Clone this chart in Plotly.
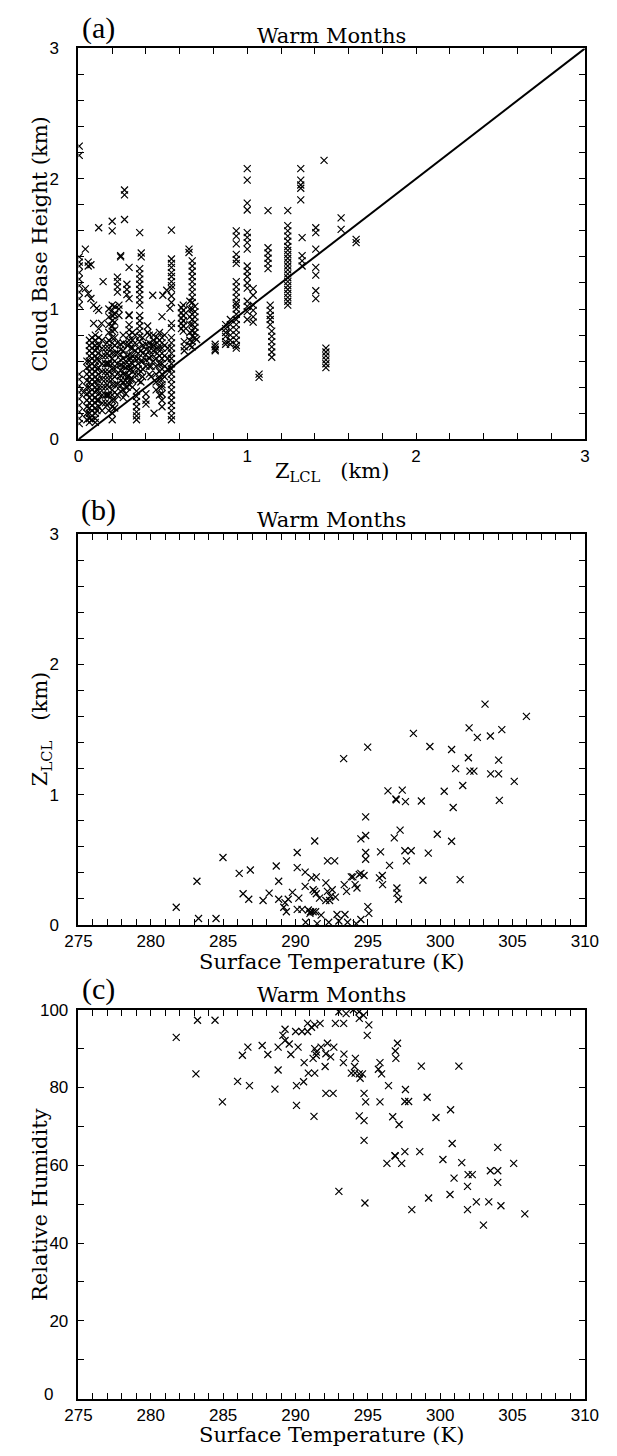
import plotly.graph_objects as go

# ---------------------------------------------------------------------------
# (a) Cloud base height vs. LCL height; points sit in columns of equal Z_LCL
# ---------------------------------------------------------------------------
a_zlcl = [0.005, 0.03, 0.041, 0.05, 0.058, 0.065, 0.074, 0.08, 0.09, 0.10,
          0.108, 0.11, 0.12, 0.137, 0.14, 0.146, 0.16, 0.17, 0.18, 0.20,
          0.215, 0.23, 0.231, 0.24, 0.25, 0.265, 0.273, 0.28, 0.287, 0.29,
          0.30, 0.31, 0.32, 0.335, 0.344, 0.354, 0.363, 0.37, 0.372, 0.38,
          0.40, 0.41, 0.42, 0.43, 0.44, 0.444, 0.448, 0.46, 0.467, 0.48,
          0.495, 0.50, 0.51, 0.523, 0.53, 0.542, 0.551, 0.61, 0.621, 0.627,
          0.655, 0.66, 0.674, 0.69, 0.70, 0.81, 0.872, 0.90, 0.935, 1.0,
          1.035, 1.07, 1.123, 1.136, 1.145, 1.24, 1.317, 1.325, 1.406, 1.455,
          1.466, 1.556, 1.645]
a_cbh = [
    [2.25, 2.18, 1.40, 1.36, 1.33, 1.28, 1.23, 1.18, 1.13, 1.08, 1.03, 0.50, 0.46, 0.41, 0.36,
     0.31, 0.26, 0.21, 0.16, 0.12],                                          # 0.005
    [0.36],                                                                  # 0.03
    [1.46, 1.157],                                                           # 0.041
    [0.60, 0.55, 0.50, 0.45, 0.40, 0.35, 0.30, 0.25, 0.20, 0.15],            # 0.05
    [1.36, 1.33, 1.119],                                                     # 0.058
    [0.76, 0.72, 0.68, 0.64, 0.60, 0.56, 0.52, 0.48, 0.44, 0.40, 0.36, 0.32, 0.28, 0.24, 0.20,
     0.16, 0.13],                                                            # 0.065
    [1.34, 1.081],                                                           # 0.074
    [0.78, 0.74, 0.70, 0.66, 0.62, 0.58, 0.54, 0.50, 0.46, 0.42, 0.38, 0.34, 0.30, 0.26, 0.22,
     0.18, 0.15],                                                            # 0.08
    [1.03, 0.89],                                                            # 0.09
    [0.80, 0.76, 0.72, 0.68, 0.64, 0.60, 0.56, 0.52, 0.48, 0.44, 0.40, 0.36, 0.32, 0.28, 0.24,
     0.20, 0.16, 0.13],                                                      # 0.10
    [1.005],                                                                 # 0.108
    [0.70, 0.62, 0.54, 0.46, 0.38, 0.30, 0.22],                              # 0.11
    [1.624, 0.99, 0.85, 0.78, 0.72, 0.66, 0.60, 0.55, 0.50, 0.45, 0.40, 0.35, 0.30, 0.25],  # 0.12
    [0.89],                                                                  # 0.137
    [0.76, 0.70, 0.64, 0.58, 0.52, 0.46, 0.40, 0.34, 0.28, 0.22],            # 0.14
    [1.21],                                                                  # 0.146
    [0.70, 0.64, 0.58, 0.52, 0.46, 0.40, 0.34, 0.28],                        # 0.16
    [0.74, 0.66, 0.58, 0.50, 0.42, 0.34, 0.26],                              # 0.17
    [1.00, 0.94, 0.88, 0.82, 0.76, 0.70, 0.64, 0.58, 0.52, 0.46, 0.40, 0.34, 0.28, 0.22],  # 0.18
    [1.674, 1.60, 1.03, 0.99, 0.95, 0.91, 0.87, 0.83, 0.78, 0.74, 0.70, 0.66, 0.62, 0.58, 0.54,
     0.50, 0.46, 0.42, 0.38, 0.34, 0.30, 0.25, 0.20, 0.15],                  # 0.20
    [1.02, 0.96, 0.90, 0.84, 0.78, 0.72, 0.66, 0.60, 0.54, 0.48, 0.42, 0.36, 0.30, 0.24],  # 0.215
    [0.74, 0.66, 0.58, 0.50, 0.42, 0.34],                                    # 0.23
    [1.245, 1.21, 1.17, 1.13],                                               # 0.231
    [1.03, 1.0, 0.95],                                                       # 0.24
    [1.41, 1.40, 0.73, 0.69, 0.65, 0.61, 0.57, 0.53, 0.49, 0.45, 0.41, 0.37],  # 0.25
    [0.80, 0.74, 0.68, 0.62, 0.56, 0.50, 0.44, 0.38, 0.32],                  # 0.265
    [1.914, 1.876, 1.687],                                                   # 0.273
    [0.60, 0.55, 0.50, 0.45, 0.40, 0.35],                                    # 0.28
    [1.19, 1.15, 1.11],                                                      # 0.287
    [0.72, 0.64, 0.56, 0.48, 0.40],                                          # 0.29
    [1.32, 1.08, 0.955, 0.95, 0.88, 0.84, 0.80, 0.76, 0.73, 0.65, 0.61, 0.57, 0.53, 0.49, 0.45,
     0.42],                                                                  # 0.30
    [0.70, 0.62, 0.54, 0.46],                                                # 0.31
    [0.82, 0.76, 0.70, 0.64, 0.58, 0.52, 0.46, 0.40],                        # 0.32
    [0.80, 0.74, 0.68, 0.62, 0.56, 0.50],                                    # 0.335
    [0.37, 0.33, 0.29, 0.25, 0.21, 0.18, 0.15],                              # 0.344
    [0.70, 0.66, 0.62, 0.58, 0.54, 0.50, 0.45],                              # 0.354
    [1.586, 1.31, 1.27, 1.23, 1.19, 1.15, 1.11, 1.07, 1.03, 0.95, 0.91, 0.87, 0.83, 0.79, 0.75],  # 0.363
    [0.68, 0.60, 0.52, 0.44],                                                # 0.37
    [1.43, 1.40],                                                            # 0.372
    [0.78, 0.72, 0.66, 0.60, 0.54, 0.48],                                    # 0.38
    [0.73, 0.69, 0.65, 0.61, 0.56, 0.35, 0.30, 0.27],                        # 0.40
    [0.87, 0.82],                                                            # 0.41
    [0.80, 0.74, 0.68, 0.62, 0.56, 0.50],                                    # 0.42
    [0.72, 0.64, 0.56, 0.48],                                                # 0.43
    [1.106],                                                                 # 0.44
    [0.80, 0.76, 0.72, 0.68, 0.60],                                          # 0.444
    [0.20],                                                                  # 0.448
    [0.62, 0.56, 0.50, 0.44, 0.38],                                          # 0.46
    [0.78, 0.74, 0.70, 0.66],                                                # 0.467
    [0.82, 0.76, 0.70, 0.64, 0.58, 0.52, 0.46, 0.40, 0.34],                  # 0.48
    [0.942, 0.78, 0.74, 0.70, 0.66, 0.62, 0.58, 0.54, 0.50, 0.46, 0.42, 0.40, 0.35, 0.30, 0.25],  # 0.495
    [1.106],                                                                 # 0.50
    [0.80, 0.72, 0.64, 0.56, 0.48],                                          # 0.51
    [1.144],                                                                 # 0.523
    [0.70, 0.62, 0.54],                                                      # 0.53
    [1.005],                                                                 # 0.542
    [1.606, 1.384, 1.35, 1.32, 1.28, 1.25, 1.21, 1.18, 1.157, 1.10, 1.05, 0.89, 0.855, 0.78, 0.74,
     0.70, 0.66, 0.62, 0.58, 0.54, 0.50, 0.46, 0.42, 0.38, 0.34, 0.30, 0.26, 0.22, 0.18, 0.15],  # 0.551
    [1.01, 0.97, 0.93, 0.89, 0.85],                                          # 0.61
    [1.03, 0.99, 0.95, 0.91, 0.87, 0.83],                                    # 0.621
    [0.75, 0.71, 0.68],                                                      # 0.627
    [1.46, 1.434],                                                           # 0.655
    [1.06, 1.0, 0.94, 0.88, 0.82, 0.76, 0.72],                               # 0.66
    [1.37, 1.33, 1.29, 1.25, 1.21, 1.17, 1.13, 1.09, 1.05, 1.0, 0.96, 0.92, 0.88, 0.83, 0.79,
     0.75, 0.71],                                                            # 0.674
    [1.02, 0.98, 0.94, 0.90, 0.86, 0.82, 0.78],                              # 0.69
    [0.766],                                                                 # 0.70
    [0.73, 0.71, 0.69, 0.68],                                                # 0.81
    [0.88, 0.85, 0.82, 0.79, 0.75, 0.73],                                    # 0.872
    [0.92, 0.88, 0.84, 0.80, 0.76, 0.73],                                    # 0.90
    [1.60, 1.56, 1.50, 1.42, 1.38, 1.35, 1.21, 1.17, 1.13, 1.09, 1.05, 1.03, 1.0, 0.96, 0.92,
     0.88, 0.84, 0.80, 0.76, 0.72, 0.70],                                    # 0.935
    [2.078, 1.99, 1.813, 1.76, 1.586, 1.55, 1.51, 1.46, 1.33, 1.29, 1.25, 1.20, 1.16, 1.06, 1.02,
     0.98, 0.92],                                                            # 1.0
    [1.157, 1.106, 1.03, 0.99, 0.94, 0.90],                                  # 1.035
    [0.50, 0.475],                                                           # 1.07
    [1.755, 1.47, 1.43, 1.39, 1.35, 1.31],                                   # 1.123
    [1.03, 0.99, 0.95, 0.92, 0.88],                                          # 1.136
    [0.83, 0.79, 0.75, 0.71, 0.67, 0.63],                                    # 1.145
    [1.755, 1.64, 1.60, 1.56, 1.52, 1.48, 1.45, 1.42, 1.39, 1.36, 1.33, 1.30, 1.27, 1.24, 1.21,
     1.18, 1.15, 1.12, 1.09, 1.06, 1.03],                                    # 1.24
    [2.078, 1.99, 1.952, 1.927, 1.838],                                      # 1.317
    [1.548, 1.41, 1.37, 1.33],                                               # 1.325
    [1.624, 1.586, 1.46, 1.32, 1.26, 1.14, 1.08],                            # 1.406
    [2.141],                                                                 # 1.455
    [0.70, 0.67, 0.64, 0.61, 0.58, 0.55],                                    # 1.466
    [1.70, 1.611],                                                           # 1.556
    [1.535, 1.51],                                                           # 1.645
]
one_to_one = [0.0, 3.0]
km_tick_labels = ["0", "1", "2", "3"]

# ---------------------------------------------------------------------------
# (b) LCL height vs. surface temperature
# ---------------------------------------------------------------------------
b_temp = [283.19, 283.30, 284.51, 284.99, 286.11, 286.88, 286.38, 286.77, 287.76, 288.18,
          288.67, 288.84, 288.84, 289.28, 289.50, 289.19, 289.37, 289.79, 290.23, 290.12,
          290.12, 290.67, 290.67, 291.33, 291.11, 291.44, 291.33, 291.44, 291.22, 291.66,
          290.12, 290.45, 290.89, 291.04, 291.22, 291.00, 291.39, 291.77, 292.21, 292.71,
          292.10, 292.21, 292.54, 292.43, 292.76, 292.10, 292.36, 292.87, 293.42, 293.37,
          293.53, 293.97, 294.12, 294.25, 293.86, 294.41, 294.52, 294.74, 294.52, 294.85,
          294.85, 294.85, 294.85, 295.00, 295.07, 294.52,
          303.10, 305.96, 302.00, 302.57, 303.47, 304.26, 298.15, 299.29, 300.79, 301.95,
          304.04, 301.07, 302.06, 302.33, 303.49, 304.04, 305.12, 301.56, 300.28, 296.39,
          297.38, 296.94, 296.97, 297.60, 298.70, 300.90, 304.09, 297.23, 296.83, 299.80,
          300.79, 295.88, 297.56, 298.00, 299.18, 297.67, 296.50, 295.80, 296.00, 296.02,
          298.81, 301.38, 297.01, 297.01, 297.12,
          281.76, 293.33, 294.99, 290.70, 291.50, 292.30, 293.00, 293.60, 294.20]
b_zlcl = [0.335, 0.049, 0.049, 0.517, 0.395, 0.421, 0.239, 0.197, 0.187, 0.244,
          0.452, 0.335, 0.197, 0.171, 0.197, 0.135, 0.101, 0.250, 0.205, 0.556,
          0.439, 0.405, 0.296, 0.644, 0.361, 0.369, 0.257, 0.239, 0.270, 0.205,
          0.119, 0.119, 0.114, 0.101, 0.101, 0.088, 0.101, 0.075, 0.491, 0.491,
          0.322, 0.257, 0.270, 0.218, 0.213, 0.187, 0.187, 0.080, 0.080, 0.309,
          0.257, 0.369, 0.309, 0.283, 0.369, 0.387, 0.395, 0.379, 0.660, 0.686,
          0.829, 0.556, 0.504, 0.140, 0.088, 0.041,
          1.694, 1.600, 1.512, 1.439, 1.450, 1.499, 1.470, 1.369, 1.346, 1.283,
          1.265, 1.200, 1.180, 1.180, 1.159, 1.159, 1.102, 1.070, 1.026, 1.029,
          1.034, 0.966, 0.960, 0.946, 0.951, 0.901, 0.956, 0.727, 0.668, 0.696,
          0.642, 0.561, 0.569, 0.569, 0.551, 0.491, 0.457, 0.361, 0.379, 0.309,
          0.343, 0.348, 0.283, 0.244, 0.197,
          0.135, 1.276, 1.364, 0.020, 0.010, 0.020, 0.030, 0.020, 0.010]
temp_tick_labels = ["275", "280", "285", "290", "295", "300", "305", "310"]

# ---------------------------------------------------------------------------
# (c) Relative humidity vs. surface temperature
# ---------------------------------------------------------------------------
c_temp = [283.23, 284.44, 290.84, 291.11, 291.33, 291.70, 292.76, 293.33, 294.41, 295.07,
          294.96, 289.28, 290.01, 290.45, 290.84, 289.13, 289.28, 289.57, 290.18, 287.70,
          286.71, 288.80, 286.33, 288.09, 289.68, 291.33, 291.44, 291.77, 292.21, 292.65,
          291.22, 291.44, 292.10, 292.43, 290.60, 292.05, 293.35, 293.31, 294.14, 294.08,
          293.86, 294.12, 294.41, 294.63, 294.47, 295.84, 295.73, 295.95, 283.12, 288.80,
          290.89, 291.33, 286.00, 286.82, 288.58, 290.07, 290.56, 292.10, 292.60, 294.74,
          296.43, 284.95, 290.07, 294.85, 295.84, 291.28, 294.41, 294.74, 296.72, 294.74,
          297.05, 296.90, 296.94, 298.70, 301.29, 297.60, 297.56, 297.82, 299.10, 300.72,
          297.16, 299.71, 300.83, 303.98, 296.87, 296.90, 297.56, 298.59, 296.32, 297.34,
          300.19, 301.49, 305.08, 300.96, 301.93, 302.22, 303.47, 303.98, 303.98, 301.89,
          299.20, 300.68, 302.50, 303.36, 304.20, 298.04, 301.89, 305.85, 302.99,
          281.76, 293.00, 293.50, 294.00, 294.40, 294.70, 294.80, 293.00]
c_rh = [97.3, 97.3, 96.5, 95.5, 96.1, 96.5, 96.5, 96.5, 97.8, 96.1,
        93.4, 95.0, 94.4, 94.4, 94.4, 93.4, 92.1, 91.2, 90.4, 90.8,
        90.4, 90.4, 88.3, 88.5, 88.5, 90.0, 89.1, 90.4, 91.4, 90.4,
        87.5, 88.3, 88.7, 87.9, 86.4, 85.4, 88.6, 86.4, 87.5, 85.4,
        83.7, 83.7, 83.5, 83.5, 82.4, 86.4, 84.7, 83.5, 83.5, 84.5,
        83.7, 83.7, 81.6, 80.5, 79.6, 80.5, 81.5, 78.5, 78.5, 78.5,
        80.5, 76.3, 75.4, 76.3, 76.3, 72.6, 72.7, 71.5, 72.5, 66.4,
        91.4, 89.4, 87.5, 85.5, 85.5, 79.5, 76.4, 76.4, 77.5, 74.3,
        70.5, 72.3, 65.6, 64.6, 62.5, 62.4, 63.5, 63.5, 60.5, 60.5,
        61.5, 60.7, 60.5, 56.7, 57.6, 57.6, 58.6, 58.6, 55.6, 54.6,
        51.6, 52.5, 50.6, 50.6, 49.6, 48.6, 48.6, 47.5, 44.6,
        92.9, 99.5, 99.0, 100.0, 99.5, 98.6, 50.3, 53.3]
rh_tick_labels = ["20", "40", "60", "80", "100"]

# expand the column table of panel (a) into point lists
a_x = [z for z, col in zip(a_zlcl, a_cbh) for _ in col]
a_y = [h for col in a_cbh for h in col]

# ---------------------------------------------------------------------------
# page geometry (pixels)
# ---------------------------------------------------------------------------
FIG_W, FIG_H = 617, 1456
PLOT_L, PLOT_R = 67.5, 598.0
BOX = {"a": (40, 436), "b": (532, 928), "c": (1014, 1408)}


def fx(px):
    return px / FIG_W


def fy(py):
    return 1 - py / FIG_H


TICK_FONT = dict(family="Liberation Sans", size=17, color="black")
TITLE_FONT = dict(family="DejaVu Serif", size=21, color="black")
LABEL_FONT = dict(family="DejaVu Serif", size=21, color="black")
TAG_FONT = dict(family="Liberation Serif", size=30, color="black")

marker_x = dict(symbol="x-thin", size=7, color="black", line=dict(width=1.2, color="black"))

NBSP = "\u00a0"


def tick_set(lo, hi, step, labels, suffix=""):
    """Tick marks every `step`; only the listed values carry a label."""
    n = int(round((hi - lo) / step))
    vals = [round(lo + i * step, 6) for i in range(n + 1)]
    named = {float(s): s for s in labels}
    text = [named[v] + suffix if v in named else "" for v in vals]
    return vals, text


def axis(domain, rng, ticks, anchor):
    vals, text = ticks
    return dict(domain=domain, range=rng, anchor=anchor,
                tickmode="array", tickvals=vals, ticktext=text,
                showline=True, linewidth=2, linecolor="black", mirror="ticks",
                ticks="inside", ticklen=6, tickwidth=1.3, tickcolor="black",
                showgrid=False, zeroline=False, tickfont=TICK_FONT,
                fixedrange=True)


xdom = [fx(PLOT_L), fx(PLOT_R)]
ydom = {k: [fy(b), fy(t)] for k, (t, b) in BOX.items()}

fig = go.Figure()
fig.add_trace(go.Scatter(x=one_to_one, y=one_to_one, mode="lines",
                         line=dict(color="black", width=2), xaxis="x", yaxis="y",
                         hoverinfo="skip"))
fig.add_trace(go.Scatter(x=a_x, y=a_y, mode="markers", marker=marker_x,
                         xaxis="x", yaxis="y"))
fig.add_trace(go.Scatter(x=b_temp, y=b_zlcl, mode="markers", marker=marker_x,
                         xaxis="x2", yaxis="y2"))
fig.add_trace(go.Scatter(x=c_temp, y=c_rh, mode="markers", marker=marker_x,
                         xaxis="x3", yaxis="y3"))

fig.update_layout(
    width=FIG_W, height=FIG_H,
    margin=dict(l=0, r=0, t=0, b=0),
    paper_bgcolor="white", plot_bgcolor="white",
    showlegend=False,
    xaxis=axis(xdom, [0, 3], tick_set(0, 3, 0.2, km_tick_labels), "y"),
    yaxis=axis(ydom["a"], [0, 3], tick_set(0, 3, 0.2, km_tick_labels, NBSP * 3), "x"),
    xaxis2=axis(xdom, [275, 310], tick_set(275, 310, 1, temp_tick_labels), "y2"),
    yaxis2=axis(ydom["b"], [0, 3], tick_set(0, 3, 0.2, km_tick_labels, NBSP * 3), "x2"),
    xaxis3=axis(xdom, [275, 310], tick_set(275, 310, 1, temp_tick_labels), "y3"),
    yaxis3=axis(ydom["c"], [0, 100], tick_set(0, 100, 10, rh_tick_labels, NBSP), "x3"),
)

xc = (PLOT_L + PLOT_R) / 2
notes = [
    # panel tags and titles
    ("(a)", 89, 19, TAG_FONT, 0), ("Warm Months", xc, 27, TITLE_FONT, 0),
    ("(b)", 89, 508, TAG_FONT, 0), ("Warm Months", xc, 518, TITLE_FONT, 0),
    ("(c)", 89, 993, TAG_FONT, 0), ("Warm Months", xc, 999, TITLE_FONT, 0),
    # axis titles
    ("Z<sub>LCL</sub>" + NBSP * 3 + "(km)", xc, 469, LABEL_FONT, 0),
    ("Cloud Base Height (km)", 27, 238, LABEL_FONT, -90),
    ("Surface Temperature (K)", xc, 966, LABEL_FONT, 0),
    ("Z<sub>LCL</sub>" + NBSP * 3 + "(km)", 29, 730, LABEL_FONT, -90),
    ("Surface Temperature (K)", xc, 1445, LABEL_FONT, 0),
    ("Relative Humidity", 27, 1211, LABEL_FONT, -90),
    # zero label of the humidity axis, set off to the left of the 275 label
    ("0", 36, 1404, TICK_FONT, 0),
]
fig.update_layout(annotations=[
    dict(text=t, x=fx(px), y=fy(py), xref="paper", yref="paper",
         xanchor="center", yanchor="middle", showarrow=False, font=f, textangle=ang)
    for t, px, py, f, ang in notes
])

fig.write_html("out.html", config={"displayModeBar": False},
               post_script="document.body.style.margin='0';document.body.style.padding='0';")
